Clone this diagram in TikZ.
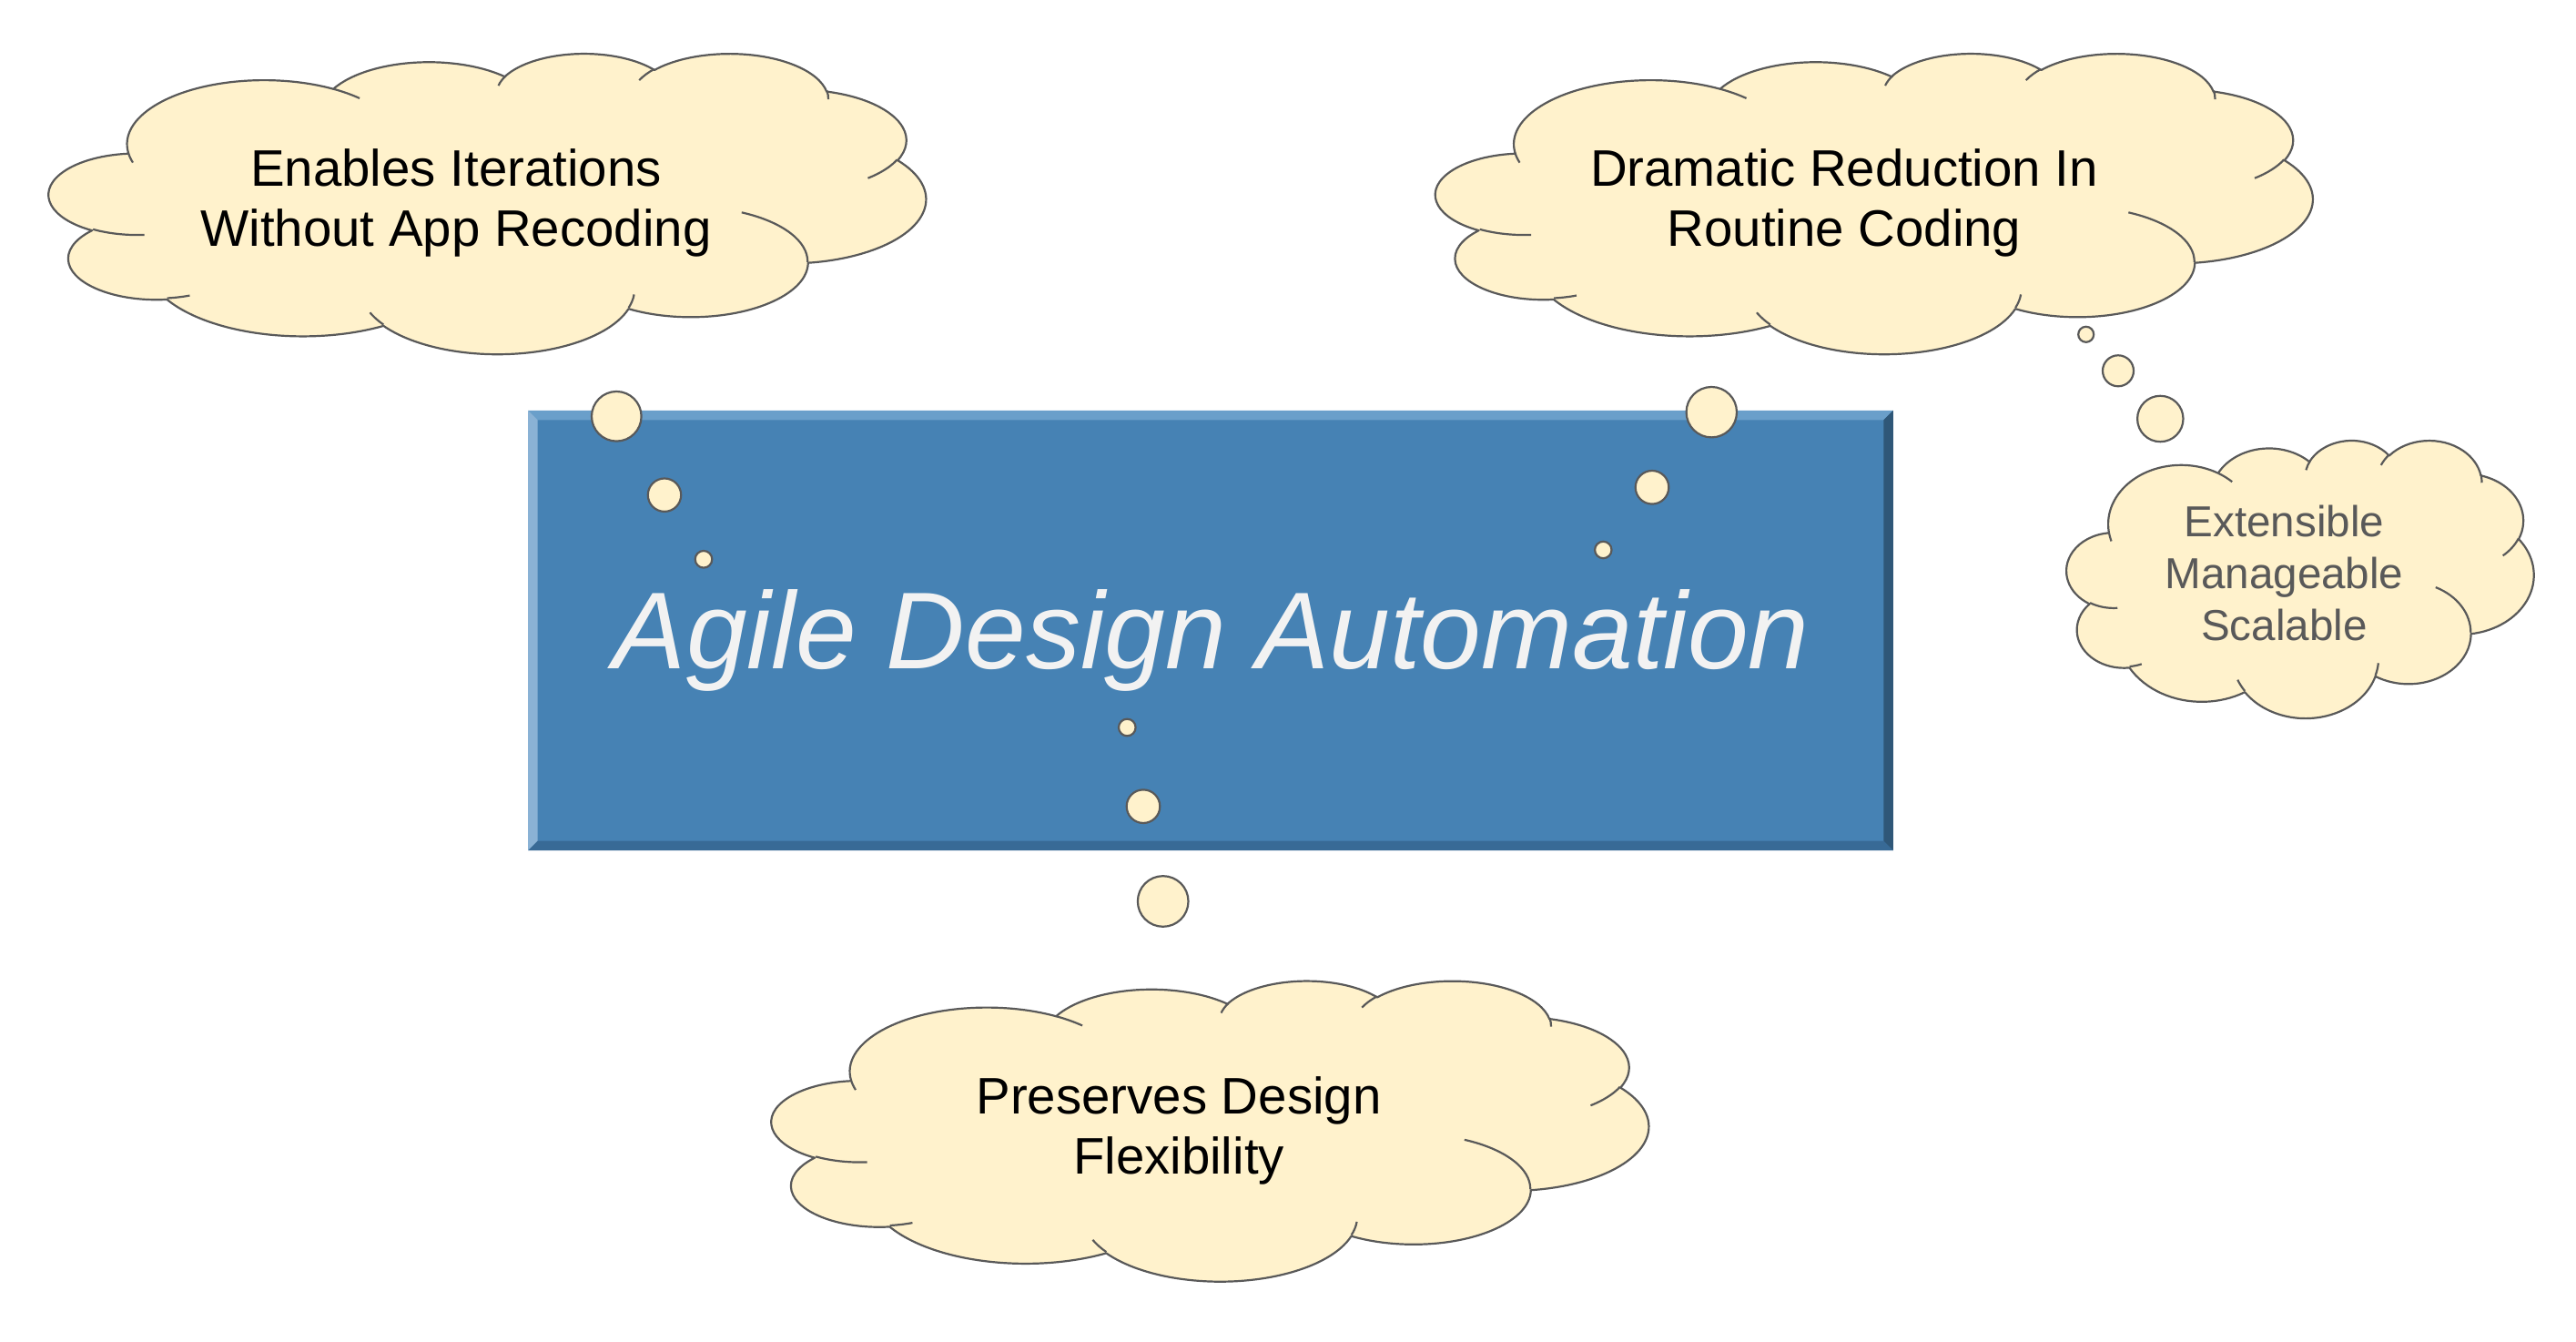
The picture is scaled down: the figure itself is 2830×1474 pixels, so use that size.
\documentclass[tikz,border=0pt]{standalone}
\usepackage{fontspec}
\setmainfont{Liberation Sans}
\definecolor{cream}{HTML}{FFF2CC}
\definecolor{linegray}{HTML}{595959}
\definecolor{face}{HTML}{4682B4}
\definecolor{bevtop}{HTML}{6A9FCA}
\definecolor{bevleft}{HTML}{8AB2D5}
\definecolor{bevright}{HTML}{2F5778}
\definecolor{bevbot}{HTML}{386A96}
\definecolor{titlecol}{HTML}{F2F2F2}
% visual angle -> parametric angle on an ellipse (wR, hR, angle)
\newcommand\vpar[3]{(atan2((#1)*sin(#3),(#2)*cos(#3))+360*round(((#3)-atan2((#1)*sin(#3),(#2)*cos(#3)))/360))}
\newcommand\carc[4]{arc[x radius=#1, y radius=#2, start angle={\vpar{#1}{#2}{#3}}, end angle={\vpar{#1}{#2}{#3+#4}}]}
\newcommand\cloudat[4]{%
  \begin{scope}[shift={(#1,#2)},xscale=#3/432,yscale=#4/432]
    \filldraw[cloudline,fill=cream] (39.00,143.70)
      \carc{67.53}{91.90}{-190.48748}{123.78053}
      \carc{53.33}{72.67}{-144.10238}{89.94523}
      \carc{43.65}{59.45}{-145.80792}{99.72302}
      \carc{48.57}{65.95}{-130.98607}{117.24173}
      \carc{53.33}{72.73}{-78.70888}{109.02692}
      \carc{67.75}{92.20}{-46.26725}{130.269}
      \carc{57.85}{78.67}{0.62502}{114.03333}
      \carc{67.52}{92.15}{22.4516}{115.17255}
      \carc{77.20}{105.43}{66.24263}{75.71102}
      \carc{43.60}{59.18}{-274.94208}{146.73557}
      \carc{43.45}{59.45}{-246.8285}{152.51885} -- cycle;
    \draw[cloudline]
      (46.93,261.77) \carc{43.45}{59.45}{86.742}{26.4295}
      (69.28,348.99) \carc{43.60}{59.18}{73.61047}{11.44747}
      (164.78,390.90) \carc{67.52}{92.15}{137.62415}{14.0811}
      (288.27,347.51) \carc{67.52}{92.15}{6.45327}{15.99835}
      (341.29,229.54) \carc{57.85}{78.67}{-70.29235}{70.91737}
      (417.98,153.54) \carc{53.33}{72.73}{30.31803}{27.7515}
      (383.24,54.26) \carc{48.57}{65.95}{-13.74433}{14.8589}
      (290.78,39.52) \carc{48.57}{65.95}{-149.18145}{18.19537}
      (221.41,47.20) \carc{43.65}{59.45}{-163.49427}{17.68635}
      (140.00,51.92) \carc{67.53}{91.90}{-66.70695}{12.31935}
      (41.27,157.89) \carc{67.53}{91.90}{157.65435}{11.85817};
  \end{scope}}
\tikzset{
  cloudline/.style={draw=linegray, line width=0.55pt, line join=round},
  bub/.style={circle, draw=linegray, fill=cream, line width=0.55pt, inner sep=0pt, minimum size=#1*0.25pt},
  bodytext/.style={anchor=base, inner sep=0pt, text=black, font=\fontsize{14.1}{16.4}\selectfont},
  smalltext/.style={anchor=base, inner sep=0pt, text=linegray, font=\fontsize{11.9}{14.2}\selectfont},
  titletext/.style={anchor=base, inner sep=0pt, text=titlecol, font=\fontsize{30}{36}\selectfont\itshape},
  boxface/.style={fill=face, inner sep=0pt, minimum width=374.5pt, minimum height=120.4pt}
}
\begin{document}
\begin{tikzpicture}[x=0.25pt,y=-0.25pt]
\useasboundingbox (0,0) rectangle (2830,1474);
% central bevelled box
\node[boxface] (box) at (1330,692.5) {};
\fill[bevtop] (box.north west) -- (box.north east) -- ([shift={(-10.5,10.5)}]box.north east) -- ([shift={(10.5,10.5)}]box.north west) -- cycle;
\fill[bevleft] (box.north west) -- ([shift={(10.5,10.5)}]box.north west) -- ([shift={(10.5,-10.5)}]box.south west) -- (box.south west) -- cycle;
\fill[bevright] (box.north east) -- (box.south east) -- ([shift={(-10.5,-10.5)}]box.south east) -- ([shift={(-10.5,10.5)}]box.north east) -- cycle;
\fill[bevbot] (box.south west) -- (box.south east) -- ([shift={(-10.5,-10.5)}]box.south east) -- ([shift={(10.5,-10.5)}]box.south west) -- cycle;
\node[titletext] (title) at (1331,735) {Agile Design Automation};
% thought bubbles
\node[bub=54.6] (l1) at (677.3,457.3) {};
\node[bub=36.4] (l2) at (730,543.7) {};
\node[bub=18.6] (l3) at (773,614.3) {};
\node[bub=55.4] (r1) at (1880.3,452.7) {};
\node[bub=36.6] (r2) at (1815,535.3) {};
\node[bub=18.4] (r3) at (1761.3,604) {};
\node[bub=18.6] (d1) at (1238.3,799) {};
\node[bub=36.6] (d2) at (1256,885.7) {};
\node[bub=55.6] (d3) at (1277.7,990) {};
\node[bub=17] (e1) at (2291.7,367.3) {};
\node[bub=34] (e2) at (2327,407.3) {};
\node[bub=50.4] (e3) at (2373.3,460) {};
% clouds
\cloudat{54}{58}{963}{330}
\node[bodytext] (c1) at (501,205) {\begin{tabular}[t]{@{}c@{}}Enables Iterations\\Without App Recoding\end{tabular}};
\cloudat{1577.5}{58}{963}{330}
\node[bodytext] (c2) at (2026,205) {\begin{tabular}[t]{@{}c@{}}Dramatic Reduction In\\Routine Coding\end{tabular}};
\cloudat{848}{1076.5}{963}{330}
\node[bodytext] (c3) at (1295,1224) {\begin{tabular}[t]{@{}c@{}}Preserves Design\\Flexibility\end{tabular}};
\cloudat{2270.5}{483}{513}{305}
\node[smalltext] (c4) at (2509.5,590) {\begin{tabular}[t]{@{}c@{}}Extensible\\Manageable\\Scalable\end{tabular}};
\end{tikzpicture}
\end{document}
